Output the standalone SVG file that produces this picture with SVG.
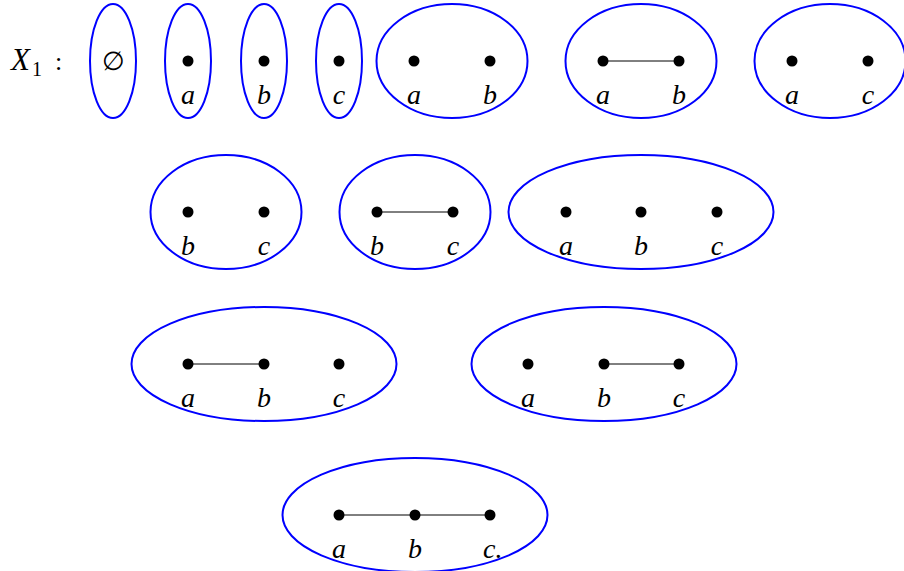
<svg xmlns="http://www.w3.org/2000/svg" width="904" height="571" viewBox="0 0 904 571">
<style>
.s{fill:none;stroke:#0000ff;stroke-width:2}
.d{fill:#000}
.e{stroke:#000;stroke-width:1}
.t{font-family:"Liberation Serif","DejaVu Serif",serif;font-style:italic;font-size:28px;text-anchor:middle;fill:#000}
.m{font-family:"DejaVu Serif","Liberation Serif",serif;font-size:26px;text-anchor:middle;fill:#000}
</style>
<rect width="904" height="571" fill="#fff"/>
<g id="label"><text x="11" y="70" style="font-family:'Liberation Serif',serif;font-style:italic;font-size:31px">X</text><text x="32" y="76" style="font-family:'Liberation Serif',serif;font-size:20px">1</text><text x="55" y="70" style="font-family:'Liberation Serif',serif;font-size:26px">:</text></g>
<g id="connectors">
<line class="e" x1="603" y1="61" x2="679" y2="61"/>
<line class="e" x1="377" y1="212" x2="453" y2="212"/>
<line class="e" x1="188" y1="364" x2="264" y2="364"/>
<line class="e" x1="604" y1="364" x2="679" y2="364"/>
<line class="e" x1="339" y1="515" x2="490" y2="515"/>
</g>
<g id="n1"><ellipse class="s" cx="113" cy="61" rx="23" ry="57"/><text class="m" x="113" y="70">∅</text></g>
<g id="n2"><ellipse class="s" cx="188" cy="61" rx="23" ry="57"/><circle class="d" cx="188" cy="61" r="5.5"/><text class="t" x="188" y="104">a</text></g>
<g id="n3"><ellipse class="s" cx="264" cy="61" rx="23" ry="57"/><circle class="d" cx="264" cy="61" r="5.5"/><text class="t" x="264" y="104">b</text></g>
<g id="n4"><ellipse class="s" cx="339" cy="61" rx="23" ry="57"/><circle class="d" cx="339" cy="61" r="5.5"/><text class="t" x="339" y="104">c</text></g>
<g id="n5"><ellipse class="s" cx="452" cy="61" rx="75.5" ry="57"/><circle class="d" cx="414" cy="61" r="5.5"/><circle class="d" cx="490" cy="61" r="5.5"/><text class="t" x="414" y="104">a</text><text class="t" x="490" y="104">b</text></g>
<g id="n6"><ellipse class="s" cx="641" cy="61" rx="75.5" ry="57"/><circle class="d" cx="603" cy="61" r="5.5"/><circle class="d" cx="679" cy="61" r="5.5"/><text class="t" x="603" y="104">a</text><text class="t" x="679" y="104">b</text></g>
<g id="n7"><ellipse class="s" cx="830" cy="61" rx="75.5" ry="57"/><circle class="d" cx="792" cy="61" r="5.5"/><circle class="d" cx="868" cy="61" r="5.5"/><text class="t" x="792" y="104">a</text><text class="t" x="868" y="104">c</text></g>
<g id="n8"><ellipse class="s" cx="226" cy="212" rx="75.5" ry="57"/><circle class="d" cx="188" cy="212" r="5.5"/><circle class="d" cx="264" cy="212" r="5.5"/><text class="t" x="188" y="255">b</text><text class="t" x="264" y="255">c</text></g>
<g id="n9"><ellipse class="s" cx="415" cy="212" rx="75.5" ry="57"/><circle class="d" cx="377" cy="212" r="5.5"/><circle class="d" cx="453" cy="212" r="5.5"/><text class="t" x="377" y="255">b</text><text class="t" x="453" y="255">c</text></g>
<g id="n10"><ellipse class="s" cx="641" cy="212" rx="132.5" ry="57"/><circle class="d" cx="566" cy="212" r="5.5"/><circle class="d" cx="641" cy="212" r="5.5"/><circle class="d" cx="717" cy="212" r="5.5"/><text class="t" x="566" y="255">a</text><text class="t" x="641" y="255">b</text><text class="t" x="717" y="255">c</text></g>
<g id="n11"><ellipse class="s" cx="264" cy="364" rx="132.5" ry="57"/><circle class="d" cx="188" cy="364" r="5.5"/><circle class="d" cx="264" cy="364" r="5.5"/><circle class="d" cx="339" cy="364" r="5.5"/><text class="t" x="188" y="407">a</text><text class="t" x="264" y="407">b</text><text class="t" x="339" y="407">c</text></g>
<g id="n12"><ellipse class="s" cx="604" cy="364" rx="132.5" ry="57"/><circle class="d" cx="528" cy="364" r="5.5"/><circle class="d" cx="604" cy="364" r="5.5"/><circle class="d" cx="679" cy="364" r="5.5"/><text class="t" x="528" y="407">a</text><text class="t" x="604" y="407">b</text><text class="t" x="679" y="407">c</text></g>
<g id="n13"><ellipse class="s" cx="415" cy="515" rx="132.5" ry="57"/><circle class="d" cx="339" cy="515" r="5.5"/><circle class="d" cx="415" cy="515" r="5.5"/><circle class="d" cx="490" cy="515" r="5.5"/><text class="t" x="339" y="558">a</text><text class="t" x="415" y="558">b</text><text class="t" x="483" y="558" style="text-anchor:start">c.</text></g>
</svg>
